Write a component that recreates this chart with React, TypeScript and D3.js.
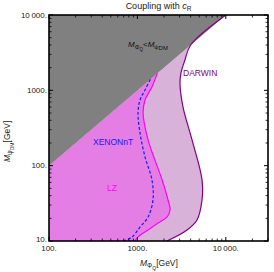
import React from 'react';
import * as d3 from 'd3';

// curves: [M_PhiQ, M_psiDM] in GeV
const darwinPhi = [2160, 3640, 4720, 5380, 5380, 4150, 3280, 3030, 3110, 3450, 4000, 10000];
const darwinDm = [10, 14, 19, 35, 65, 220, 600, 1250, 1700, 2530, 4000, 10000];

const lzPhi = [940, 1016, 1320, 1710, 2160, 2340, 2220, 1900, 1320, 1160, 1220, 1460, 1680];
const lzDm = [10, 11.3, 14, 17.3, 20.8, 25.8, 35, 65, 220, 500, 745, 1110, 1680];

const xenonPhi = [690, 870, 1070, 1320, 1500, 1460, 1220, 1070, 1016, 1070, 1220, 1400];
const xenonDm = [10, 11.3, 15.3, 20.8, 35, 65, 130, 272, 500, 745, 1010, 1400];

const xMajor = [100, 1000, 10000];
const xMajorLabels = ['100.', '1000.', '10\u2009000.'];
const yMajor = [10, 100, 1000, 10000];
const yMajorLabels = ['10.', '100.', '1000.', '10\u2009000.'];

const W = 274;
const H = 272;
const L = 49, R = 268, T = 15, B = 241;

const App: React.FC = () => {
  const x = d3.scaleLog().domain([100, 30000]).range([L, R]);
  const y = d3.scaleLog().domain([10, 10000]).range([B, T]);

  const zip = (a: number[], b: number[]) => a.map((v, i) => [v, b[i]] as [number, number]);
  const line = d3.line<[number, number]>()
    .x(d => x(d[0]))
    .y(d => y(d[1]))
    .curve(d3.curveCatmullRom.alpha(0.5));

  const darwinPath = line(zip(darwinPhi, darwinDm)) || '';
  const lzPath = line(zip(lzPhi, lzDm)) || '';
  const xenonPath = line(zip(xenonPhi, xenonDm)) || '';

  const corner = `L${x(100)},${y(100)}L${x(100)},${y(10)}Z`;
  const grayPath = `M${x(100)},${y(100)}L${x(10000)},${y(10000)}L${x(100)},${y(10000)}Z`;

  const xMinor = x.ticks().filter(t => !xMajor.includes(t));
  const yMinor = y.ticks().filter(t => !yMajor.includes(t));

  const font = 'Liberation Sans, Arial, sans-serif';

  return (
    <div style={{ position: 'fixed', left: 0, top: 0 }}>
      <svg width={W} height={H} style={{ display: 'block' }} fontFamily={font}>
        <defs>
          <clipPath id="plot">
            <rect x={L} y={T} width={R - L} height={B - T} />
          </clipPath>
        </defs>
        <rect width={W} height={H} fill="#fff" />

        <g clipPath="url(#plot)">
          <path d={darwinPath + corner} fill="#d9b2d9" />
          <path d={lzPath + corner} fill="#e47de4" />
          <path d={grayPath} fill="#808080" />
          <path d={darwinPath} fill="none" stroke="#800080" strokeWidth={1.2} />
          <path d={lzPath} fill="none" stroke="#ff00ff" strokeWidth={1.2} />
          <path d={xenonPath} fill="none" stroke="#1a1aff" strokeWidth={1.2} strokeDasharray="3,2" />
        </g>

        {/* ticks on all sides, pointing inside */}
        {xMajor.map(t => (
          <g key={'xM' + t}>
            <line x1={x(t)} x2={x(t)} y1={B} y2={B - 4} stroke="#000" />
            <line x1={x(t)} x2={x(t)} y1={T} y2={T + 4} stroke="#000" />
          </g>
        ))}
        {xMinor.map(t => (
          <g key={'xm' + t}>
            <line x1={x(t)} x2={x(t)} y1={B} y2={B - 2.5} stroke="#000" strokeWidth={0.8} />
            <line x1={x(t)} x2={x(t)} y1={T} y2={T + 2.5} stroke="#000" strokeWidth={0.8} />
          </g>
        ))}
        {yMajor.map(t => (
          <g key={'yM' + t}>
            <line x1={L} x2={L + 4} y1={y(t)} y2={y(t)} stroke="#000" />
            <line x1={R} x2={R - 4} y1={y(t)} y2={y(t)} stroke="#000" />
          </g>
        ))}
        {yMinor.map(t => (
          <g key={'ym' + t}>
            <line x1={L} x2={L + 2.5} y1={y(t)} y2={y(t)} stroke="#000" strokeWidth={0.8} />
            <line x1={R} x2={R - 2.5} y1={y(t)} y2={y(t)} stroke="#000" strokeWidth={0.8} />
          </g>
        ))}

        <rect x={L} y={T} width={R - L} height={B - T} fill="none" stroke="#000" strokeWidth={1.6} />

        {/* tick labels */}
        {xMajor.map((t, i) => (
          <text key={'xl' + t} x={x(t)} y={250.5} fontSize={8} textAnchor="middle" fill="#222">
            {xMajorLabels[i]}
          </text>
        ))}
        {yMajor.map((t, i) => (
          <text key={'yl' + t} x={47} y={y(t) + (t === 10 ? 1 : 2.8)} fontSize={8} textAnchor="end" fill="#222">
            {yMajorLabels[i]}
          </text>
        ))}

        {/* title */}
        <text x={(L + R) / 2} y={9} fontSize={9} textAnchor="middle" fill="#222">
          Coupling with <tspan fontStyle="italic">c</tspan>
          <tspan fontSize={6.5} dy={2}>R</tspan>
        </text>

        {/* axis labels */}
        <text x={140} y={266} fontSize={8.5} fill="#222">
          <tspan fontStyle="italic">M</tspan>
          <tspan fontSize={6.5} dy={2}>Φ</tspan>
          <tspan fontSize={5} dy={1.5}>Q</tspan>
          <tspan dy={-3.5}>[GeV]</tspan>
        </text>
        <text transform="translate(10,162) rotate(-90)" fontSize={8.5} fill="#222">
          <tspan fontStyle="italic">M</tspan>
          <tspan fontSize={6.5} dy={2}>ψ</tspan>
          <tspan fontSize={5} dy={1.5}>DM</tspan>
          <tspan dy={-3.5}>[GeV]</tspan>
        </text>

        {/* annotations */}
        <text x={128} y={47} fontSize={8} fill="#111">
          <tspan fontStyle="italic">M</tspan>
          <tspan fontSize={6} dy={2}>Φ</tspan>
          <tspan fontSize={4.5} dy={1.5}>Q</tspan>
          <tspan dy={-3.5}>{'<'}</tspan>
          <tspan fontStyle="italic">M</tspan>
          <tspan fontSize={6} dy={2}>ψ</tspan>
          <tspan fontSize={6} dy={1}>DM</tspan>
        </text>
        <text x={183} y={76} fontSize={8.5} fill="#800080">DARWIN</text>
        <text x={93} y={145} fontSize={8.5} fill="#1a1aff">XENONnT</text>
        <text x={107} y={191} fontSize={8.5} fill="#ff00ff">LZ</text>
      </svg>
    </div>
  );
};

export default App;
